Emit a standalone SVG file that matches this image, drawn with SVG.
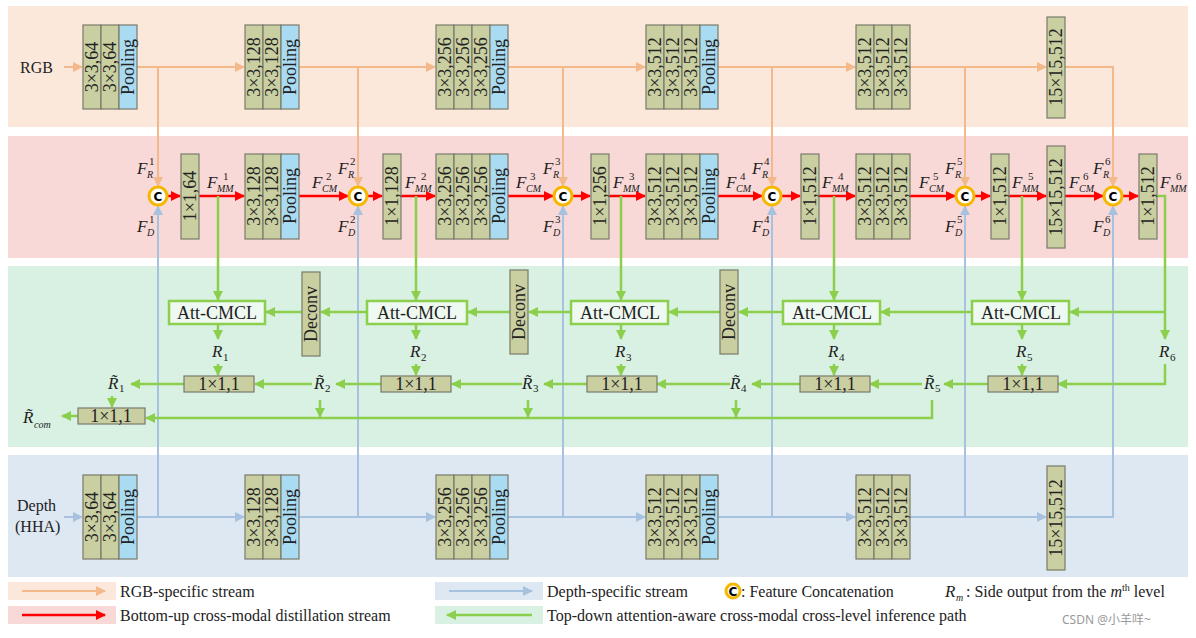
<svg xmlns="http://www.w3.org/2000/svg" width="1196" height="638" viewBox="0 0 1196 638">
<style>
.b{fill:#c9cfa1;stroke:#7a7a6a;stroke-width:1.2}
.p{fill:#a9dcf3;stroke:#7a7a6a;stroke-width:1.2}
.bt{font-family:"Liberation Serif",serif;font-size:18px;fill:#222;text-anchor:middle;dominant-baseline:central}
.t{font-family:"Liberation Serif",serif;font-size:16px;fill:#222}
.i{font-family:"Liberation Serif",serif;font-style:italic;font-size:17px;fill:#222}
.s{font-family:"Liberation Serif",serif;font-style:italic;font-size:10px;fill:#222}
.n{font-family:"Liberation Serif",serif;font-size:11px;fill:#222}
.o{stroke:#f3b98a;stroke-width:2;fill:none}
.bl{stroke:#a7c2de;stroke-width:2;fill:none}
.r{stroke:#ff0000;stroke-width:2.5;fill:none}
.g{stroke:#8ccf4c;stroke-width:2.5;fill:none}
.att{fill:#eef9f1;stroke:#8ccf4c;stroke-width:2.5}
.cc{fill:#fff;stroke:#f5b800;stroke-width:3}
.ct{font-family:"DejaVu Sans",sans-serif;font-weight:bold;font-size:12px;text-anchor:middle;dominant-baseline:central}
</style>
<defs>
<marker id="ao" markerWidth="10" markerHeight="10" refX="9" refY="5" orient="auto" markerUnits="userSpaceOnUse"><path d="M0,0 L10,5 L0,10 z" fill="#f3b98a"/></marker>
<marker id="ab" markerWidth="10" markerHeight="10" refX="9" refY="5" orient="auto" markerUnits="userSpaceOnUse"><path d="M0,0 L10,5 L0,10 z" fill="#a7c2de"/></marker>
<marker id="ar" markerWidth="10" markerHeight="10" refX="9" refY="5" orient="auto" markerUnits="userSpaceOnUse"><path d="M0,0 L10,5 L0,10 z" fill="#ff0000"/></marker>
<marker id="ag" markerWidth="10" markerHeight="10" refX="9" refY="5" orient="auto" markerUnits="userSpaceOnUse"><path d="M0,0 L10,5 L0,10 z" fill="#8ccf4c"/></marker>
</defs>
<rect x="8" y="6" width="1180" height="121" fill="#fbe8da"/>
<rect x="8" y="136" width="1180" height="122" fill="#f9d9d8"/>
<rect x="8" y="266" width="1180" height="181" fill="#d8f1e2"/>
<rect x="8" y="455" width="1180" height="122" fill="#dde8f3"/>

<g id="connectors">
<path class="o" d="M64,67 H82" marker-end="url(#ao)"/>
<path class="o" d="M137,67 H244" marker-end="url(#ao)"/>
<path class="o" d="M299,67 H435" marker-end="url(#ao)"/>
<path class="o" d="M508,67 H645" marker-end="url(#ao)"/>
<path class="o" d="M718,67 H855" marker-end="url(#ao)"/>
<path class="o" d="M910,67 H1046" marker-end="url(#ao)"/>
<path class="o" d="M1065,67 H1113 V186" marker-end="url(#ao)"/>
<path class="o" d="M158,67 V186" marker-end="url(#ao)"/>
<path class="o" d="M358,67 V186" marker-end="url(#ao)"/>
<path class="o" d="M563,67 V186" marker-end="url(#ao)"/>
<path class="o" d="M772,67 V186" marker-end="url(#ao)"/>
<path class="o" d="M965,67 V186" marker-end="url(#ao)"/>
<path class="bl" d="M64,517 H82" marker-end="url(#ab)"/>
<path class="bl" d="M137,517 H244" marker-end="url(#ab)"/>
<path class="bl" d="M299,517 H435" marker-end="url(#ab)"/>
<path class="bl" d="M508,517 H645" marker-end="url(#ab)"/>
<path class="bl" d="M718,517 H855" marker-end="url(#ab)"/>
<path class="bl" d="M910,517 H1046" marker-end="url(#ab)"/>
<path class="bl" d="M1065,517 H1113 V206" marker-end="url(#ab)"/>
<path class="bl" d="M158,517 V206" marker-end="url(#ab)"/>
<path class="bl" d="M358,517 V206" marker-end="url(#ab)"/>
<path class="bl" d="M563,517 V206" marker-end="url(#ab)"/>
<path class="bl" d="M772,517 V206" marker-end="url(#ab)"/>
<path class="bl" d="M965,517 V206" marker-end="url(#ab)"/>
<path class="r" d="M167,196 H180" marker-end="url(#ar)"/>
<path class="r" d="M199,196 H244" marker-end="url(#ar)"/>
<path class="r" d="M299,196 H348" marker-end="url(#ar)"/>
<path class="r" d="M367,196 H382" marker-end="url(#ar)"/>
<path class="r" d="M401,196 H435" marker-end="url(#ar)"/>
<path class="r" d="M508,196 H553" marker-end="url(#ar)"/>
<path class="r" d="M572,196 H590" marker-end="url(#ar)"/>
<path class="r" d="M609,196 H645" marker-end="url(#ar)"/>
<path class="r" d="M718,196 H762" marker-end="url(#ar)"/>
<path class="r" d="M781,196 H800" marker-end="url(#ar)"/>
<path class="r" d="M819,196 H855" marker-end="url(#ar)"/>
<path class="r" d="M910,196 H955" marker-end="url(#ar)"/>
<path class="r" d="M974,196 H990" marker-end="url(#ar)"/>
<path class="r" d="M1009,196 H1046" marker-end="url(#ar)"/>
<path class="r" d="M1065,196 H1103" marker-end="url(#ar)"/>
<path class="r" d="M1122,196 H1138" marker-end="url(#ar)"/>
<path class="g" d="M218,196 V300" marker-end="url(#ag)"/>
<path class="g" d="M416,196 V300" marker-end="url(#ag)"/>
<path class="g" d="M621,196 V300" marker-end="url(#ag)"/>
<path class="g" d="M834,196 V300" marker-end="url(#ag)"/>
<path class="g" d="M1022,196 V300" marker-end="url(#ag)"/>
<path class="g" d="M1157,196 H1165 V339" marker-end="url(#ag)"/>
<path class="g" d="M1165,312 H1070" marker-end="url(#ag)"/>
<path class="g" d="M972,312 H881" marker-end="url(#ag)"/>
<path class="g" d="M783,312 H739" marker-end="url(#ag)"/>
<path class="g" d="M720,312 H669" marker-end="url(#ag)"/>
<path class="g" d="M571,312 H529" marker-end="url(#ag)"/>
<path class="g" d="M510,312 H468" marker-end="url(#ag)"/>
<path class="g" d="M366,312 H321" marker-end="url(#ag)"/>
<path class="g" d="M302,312 H266" marker-end="url(#ag)"/>
<path class="g" d="M218,324 V339" marker-end="url(#ag)"/>
<path class="g" d="M416,324 V339" marker-end="url(#ag)"/>
<path class="g" d="M621,324 V339" marker-end="url(#ag)"/>
<path class="g" d="M834,324 V339" marker-end="url(#ag)"/>
<path class="g" d="M1022,324 V339" marker-end="url(#ag)"/>
<path class="g" d="M218,364 V375" marker-end="url(#ag)"/>
<path class="g" d="M416,364 V375" marker-end="url(#ag)"/>
<path class="g" d="M621,364 V375" marker-end="url(#ag)"/>
<path class="g" d="M834,364 V375" marker-end="url(#ag)"/>
<path class="g" d="M1022,364 V375" marker-end="url(#ag)"/>
<path class="g" d="M1165,364 V384 H1058" marker-end="url(#ag)"/>
<path class="g" d="M988,384 H944" marker-end="url(#ag)"/>
<path class="g" d="M922,384 H870" marker-end="url(#ag)"/>
<path class="g" d="M800,384 H752" marker-end="url(#ag)"/>
<path class="g" d="M730,384 H657" marker-end="url(#ag)"/>
<path class="g" d="M587,384 H544" marker-end="url(#ag)"/>
<path class="g" d="M522,384 H452" marker-end="url(#ag)"/>
<path class="g" d="M381,384 H336" marker-end="url(#ag)"/>
<path class="g" d="M312,384 H255" marker-end="url(#ag)"/>
<path class="g" d="M184,384 H131" marker-end="url(#ag)"/>
<path class="g" d="M112,396 V407" marker-end="url(#ag)"/>
<path class="g" d="M320,400 V417" marker-end="url(#ag)"/>
<path class="g" d="M528,400 V417" marker-end="url(#ag)"/>
<path class="g" d="M736,400 V417" marker-end="url(#ag)"/>
<path class="g" d="M932,400 V418 H146" marker-end="url(#ag)"/>
<path class="g" d="M78,416 H62" marker-end="url(#ag)"/>
</g>

<text class="t" x="20" y="73" font-size="17">RGB</text>
<text class="t" x="17" y="511">Depth</text>
<text class="t" x="15" y="532">(HHA)</text>

<g id="rgb1"><rect class="b" x="83" y="25" width="18" height="84"/><rect class="b" x="101" y="25" width="18" height="84"/><rect class="p" x="119" y="25" width="18" height="84"/>
<text class="bt" transform="translate(92,67) rotate(-90)">3×3,64</text><text class="bt" transform="translate(110,67) rotate(-90)">3×3,64</text><text class="bt" transform="translate(128,67) rotate(-90)">Pooling</text></g>
<g id="rgb2"><rect class="b" x="245" y="25" width="18" height="84"/><rect class="b" x="263" y="25" width="18" height="84"/><rect class="p" x="281" y="25" width="18" height="84"/>
<text class="bt" transform="translate(254,67) rotate(-90)">3×3,128</text><text class="bt" transform="translate(272,67) rotate(-90)">3×3,128</text><text class="bt" transform="translate(290,67) rotate(-90)">Pooling</text></g>
<g id="rgb3"><rect class="b" x="436" y="25" width="18" height="84"/><rect class="b" x="454" y="25" width="18" height="84"/><rect class="b" x="472" y="25" width="18" height="84"/><rect class="p" x="490" y="25" width="18" height="84"/>
<text class="bt" transform="translate(445,67) rotate(-90)">3×3,256</text><text class="bt" transform="translate(463,67) rotate(-90)">3×3,256</text><text class="bt" transform="translate(481,67) rotate(-90)">3×3,256</text><text class="bt" transform="translate(499,67) rotate(-90)">Pooling</text></g>
<g id="rgb4"><rect class="b" x="646" y="25" width="18" height="84"/><rect class="b" x="664" y="25" width="18" height="84"/><rect class="b" x="682" y="25" width="18" height="84"/><rect class="p" x="700" y="25" width="18" height="84"/>
<text class="bt" transform="translate(655,67) rotate(-90)">3×3,512</text><text class="bt" transform="translate(673,67) rotate(-90)">3×3,512</text><text class="bt" transform="translate(691,67) rotate(-90)">3×3,512</text><text class="bt" transform="translate(709,67) rotate(-90)">Pooling</text></g>
<g id="rgb5"><rect class="b" x="856" y="25" width="18" height="84"/><rect class="b" x="874" y="25" width="18" height="84"/><rect class="b" x="892" y="25" width="18" height="84"/>
<text class="bt" transform="translate(865,67) rotate(-90)">3×3,512</text><text class="bt" transform="translate(883,67) rotate(-90)">3×3,512</text><text class="bt" transform="translate(901,67) rotate(-90)">3×3,512</text></g>
<g id="rgb6"><rect class="b" x="1047" y="17" width="18" height="101"/><text class="bt" transform="translate(1056,67) rotate(-90)">15×15,512</text></g>

<g id="d1"><rect class="b" x="83" y="475" width="18" height="84"/><rect class="b" x="101" y="475" width="18" height="84"/><rect class="p" x="119" y="475" width="18" height="84"/>
<text class="bt" transform="translate(92,517) rotate(-90)">3×3,64</text><text class="bt" transform="translate(110,517) rotate(-90)">3×3,64</text><text class="bt" transform="translate(128,517) rotate(-90)">Pooling</text></g>
<g id="d2"><rect class="b" x="245" y="475" width="18" height="84"/><rect class="b" x="263" y="475" width="18" height="84"/><rect class="p" x="281" y="475" width="18" height="84"/>
<text class="bt" transform="translate(254,517) rotate(-90)">3×3,128</text><text class="bt" transform="translate(272,517) rotate(-90)">3×3,128</text><text class="bt" transform="translate(290,517) rotate(-90)">Pooling</text></g>
<g id="d3"><rect class="b" x="436" y="475" width="18" height="84"/><rect class="b" x="454" y="475" width="18" height="84"/><rect class="b" x="472" y="475" width="18" height="84"/><rect class="p" x="490" y="475" width="18" height="84"/>
<text class="bt" transform="translate(445,517) rotate(-90)">3×3,256</text><text class="bt" transform="translate(463,517) rotate(-90)">3×3,256</text><text class="bt" transform="translate(481,517) rotate(-90)">3×3,256</text><text class="bt" transform="translate(499,517) rotate(-90)">Pooling</text></g>
<g id="d4"><rect class="b" x="646" y="475" width="18" height="84"/><rect class="b" x="664" y="475" width="18" height="84"/><rect class="b" x="682" y="475" width="18" height="84"/><rect class="p" x="700" y="475" width="18" height="84"/>
<text class="bt" transform="translate(655,517) rotate(-90)">3×3,512</text><text class="bt" transform="translate(673,517) rotate(-90)">3×3,512</text><text class="bt" transform="translate(691,517) rotate(-90)">3×3,512</text><text class="bt" transform="translate(709,517) rotate(-90)">Pooling</text></g>
<g id="d5"><rect class="b" x="856" y="475" width="18" height="84"/><rect class="b" x="874" y="475" width="18" height="84"/><rect class="b" x="892" y="475" width="18" height="84"/>
<text class="bt" transform="translate(865,517) rotate(-90)">3×3,512</text><text class="bt" transform="translate(883,517) rotate(-90)">3×3,512</text><text class="bt" transform="translate(901,517) rotate(-90)">3×3,512</text></g>
<g id="d6"><rect class="b" x="1047" y="466" width="18" height="104"/><text class="bt" transform="translate(1056,518) rotate(-90)">15×15,512</text></g>

<g id="m1"><rect class="b" x="181" y="154" width="18" height="85"/><text class="bt" transform="translate(190,196) rotate(-90)">1×1,64</text></g>
<g id="m1s"><rect class="b" x="245" y="154" width="18" height="85"/><rect class="b" x="263" y="154" width="18" height="85"/><rect class="p" x="281" y="154" width="18" height="85"/>
<text class="bt" transform="translate(254,196) rotate(-90)">3×3,128</text><text class="bt" transform="translate(272,196) rotate(-90)">3×3,128</text><text class="bt" transform="translate(290,196) rotate(-90)">Pooling</text></g>
<g id="m2"><rect class="b" x="383" y="154" width="18" height="85"/><text class="bt" transform="translate(392,196) rotate(-90)">1×1,128</text></g>
<g id="m2s"><rect class="b" x="436" y="154" width="18" height="85"/><rect class="b" x="454" y="154" width="18" height="85"/><rect class="b" x="472" y="154" width="18" height="85"/><rect class="p" x="490" y="154" width="18" height="85"/>
<text class="bt" transform="translate(445,196) rotate(-90)">3×3,256</text><text class="bt" transform="translate(463,196) rotate(-90)">3×3,256</text><text class="bt" transform="translate(481,196) rotate(-90)">3×3,256</text><text class="bt" transform="translate(499,196) rotate(-90)">Pooling</text></g>
<g id="m3"><rect class="b" x="591" y="154" width="18" height="85"/><text class="bt" transform="translate(600,196) rotate(-90)">1×1,256</text></g>
<g id="m3s"><rect class="b" x="646" y="154" width="18" height="85"/><rect class="b" x="664" y="154" width="18" height="85"/><rect class="b" x="682" y="154" width="18" height="85"/><rect class="p" x="700" y="154" width="18" height="85"/>
<text class="bt" transform="translate(655,196) rotate(-90)">3×3,512</text><text class="bt" transform="translate(673,196) rotate(-90)">3×3,512</text><text class="bt" transform="translate(691,196) rotate(-90)">3×3,512</text><text class="bt" transform="translate(709,196) rotate(-90)">Pooling</text></g>
<g id="m4"><rect class="b" x="801" y="154" width="18" height="85"/><text class="bt" transform="translate(810,196) rotate(-90)">1×1,512</text></g>
<g id="m4s"><rect class="b" x="856" y="154" width="18" height="85"/><rect class="b" x="874" y="154" width="18" height="85"/><rect class="b" x="892" y="154" width="18" height="85"/>
<text class="bt" transform="translate(865,196) rotate(-90)">3×3,512</text><text class="bt" transform="translate(883,196) rotate(-90)">3×3,512</text><text class="bt" transform="translate(901,196) rotate(-90)">3×3,512</text></g>
<g id="m5"><rect class="b" x="991" y="154" width="18" height="85"/><text class="bt" transform="translate(1000,196) rotate(-90)">1×1,512</text></g>
<g id="m5s"><rect class="b" x="1047" y="146" width="18" height="102"/><text class="bt" transform="translate(1056,197) rotate(-90)">15×15,512</text></g>
<g id="m6"><rect class="b" x="1139" y="154" width="18" height="85"/><text class="bt" transform="translate(1148,196) rotate(-90)">1×1,512</text></g>

<g id="c1"><circle class="cc" cx="158" cy="196" r="9"/><text class="ct" x="158" y="197">C</text></g>
<g id="c2"><circle class="cc" cx="358" cy="196" r="9"/><text class="ct" x="358" y="197">C</text></g>
<g id="c3"><circle class="cc" cx="563" cy="196" r="9"/><text class="ct" x="563" y="197">C</text></g>
<g id="c4"><circle class="cc" cx="772" cy="196" r="9"/><text class="ct" x="772" y="197">C</text></g>
<g id="c5"><circle class="cc" cx="965" cy="196" r="9"/><text class="ct" x="965" y="197">C</text></g>
<g id="c6"><circle class="cc" cx="1113" cy="196" r="9"/><text class="ct" x="1113" y="197">C</text></g>

<g id="flabels">
<text class="i" x="137" y="174">F</text><text class="n" x="149" y="165">1</text><text class="s" x="147" y="178">R</text>
<text class="i" x="137" y="232">F</text><text class="n" x="149" y="223">1</text><text class="s" x="147" y="236">D</text>
<text class="i" x="338" y="174">F</text><text class="n" x="350" y="165">2</text><text class="s" x="348" y="178">R</text>
<text class="i" x="338" y="232">F</text><text class="n" x="350" y="223">2</text><text class="s" x="348" y="236">D</text>
<text class="i" x="543" y="174">F</text><text class="n" x="555" y="165">3</text><text class="s" x="553" y="178">R</text>
<text class="i" x="543" y="232">F</text><text class="n" x="555" y="223">3</text><text class="s" x="553" y="236">D</text>
<text class="i" x="752" y="174">F</text><text class="n" x="764" y="165">4</text><text class="s" x="762" y="178">R</text>
<text class="i" x="752" y="232">F</text><text class="n" x="764" y="223">4</text><text class="s" x="762" y="236">D</text>
<text class="i" x="945" y="174">F</text><text class="n" x="957" y="165">5</text><text class="s" x="955" y="178">R</text>
<text class="i" x="945" y="232">F</text><text class="n" x="957" y="223">5</text><text class="s" x="955" y="236">D</text>
<text class="i" x="1093" y="174">F</text><text class="n" x="1105" y="165">6</text><text class="s" x="1103" y="178">R</text>
<text class="i" x="1093" y="232">F</text><text class="n" x="1105" y="223">6</text><text class="s" x="1103" y="236">D</text>
<text class="i" x="207" y="188">F</text><text class="n" x="223" y="180">1</text><text class="s" x="217" y="192">MM</text>
<text class="i" x="405" y="188">F</text><text class="n" x="421" y="180">2</text><text class="s" x="415" y="192">MM</text>
<text class="i" x="613" y="188">F</text><text class="n" x="629" y="180">3</text><text class="s" x="623" y="192">MM</text>
<text class="i" x="822" y="188">F</text><text class="n" x="838" y="180">4</text><text class="s" x="832" y="192">MM</text>
<text class="i" x="1012" y="188">F</text><text class="n" x="1028" y="180">5</text><text class="s" x="1022" y="192">MM</text>
<text class="i" x="1160" y="188">F</text><text class="n" x="1176" y="180">6</text><text class="s" x="1170" y="192">MM</text>
<text class="i" x="312" y="188">F</text><text class="n" x="326" y="180">2</text><text class="s" x="322" y="192">CM</text>
<text class="i" x="516" y="188">F</text><text class="n" x="530" y="180">3</text><text class="s" x="526" y="192">CM</text>
<text class="i" x="726" y="188">F</text><text class="n" x="740" y="180">4</text><text class="s" x="736" y="192">CM</text>
<text class="i" x="919" y="188">F</text><text class="n" x="933" y="180">5</text><text class="s" x="929" y="192">CM</text>
<text class="i" x="1069" y="188">F</text><text class="n" x="1083" y="180">6</text><text class="s" x="1079" y="192">CM</text>
</g>

<g id="att1"><rect class="att" x="169" y="301" width="96" height="23"/><text class="bt" x="217" y="313" font-size="17">Att-CMCL</text></g>
<g id="att2"><rect class="att" x="367" y="301" width="100" height="23"/><text class="bt" x="417" y="313" font-size="17">Att-CMCL</text></g>
<g id="att3"><rect class="att" x="571" y="301" width="97" height="23"/><text class="bt" x="620" y="313" font-size="17">Att-CMCL</text></g>
<g id="att4"><rect class="att" x="783" y="301" width="97" height="23"/><text class="bt" x="832" y="313" font-size="17">Att-CMCL</text></g>
<g id="att5"><rect class="att" x="972" y="301" width="97" height="23"/><text class="bt" x="1021" y="313" font-size="17">Att-CMCL</text></g>
<g id="dc1"><rect class="b" x="302" y="272" width="18" height="84"/><text class="bt" transform="translate(311,314) rotate(-90)">Deconv</text></g>
<g id="dc2"><rect class="b" x="510" y="270" width="18" height="84"/><text class="bt" transform="translate(519,312) rotate(-90)">Deconv</text></g>
<g id="dc3"><rect class="b" x="720" y="270" width="18" height="84"/><text class="bt" transform="translate(729,312) rotate(-90)">Deconv</text></g>

<g id="rlabels">
<text class="i" x="212" y="357">R</text><text class="n" x="223" y="361">1</text>
<text class="i" x="410" y="357">R</text><text class="n" x="421" y="361">2</text>
<text class="i" x="615" y="357">R</text><text class="n" x="626" y="361">3</text>
<text class="i" x="828" y="357">R</text><text class="n" x="839" y="361">4</text>
<text class="i" x="1016" y="357">R</text><text class="n" x="1027" y="361">5</text>
<text class="i" x="1159" y="357">R</text><text class="n" x="1170" y="361">6</text>
<text class="i" x="108" y="389">R̃</text><text class="n" x="119" y="392">1</text>
<text class="i" x="314" y="389">R̃</text><text class="n" x="325" y="392">2</text>
<text class="i" x="522" y="389">R̃</text><text class="n" x="533" y="392">3</text>
<text class="i" x="730" y="389">R̃</text><text class="n" x="741" y="392">4</text>
<text class="i" x="924" y="389">R̃</text><text class="n" x="935" y="392">5</text>
<text class="i" x="23" y="423">R̃</text><text class="s" x="34" y="428">com</text>
</g>

<g id="o1"><rect class="b" x="184" y="376" width="70" height="16"/><text class="bt" x="219" y="384" font-size="17">1×1,1</text></g>
<g id="o2"><rect class="b" x="381" y="376" width="70" height="16"/><text class="bt" x="416" y="384" font-size="17">1×1,1</text></g>
<g id="o3"><rect class="b" x="587" y="376" width="70" height="16"/><text class="bt" x="622" y="384" font-size="17">1×1,1</text></g>
<g id="o4"><rect class="b" x="800" y="376" width="70" height="16"/><text class="bt" x="835" y="384" font-size="17">1×1,1</text></g>
<g id="o5"><rect class="b" x="988" y="376" width="70" height="16"/><text class="bt" x="1023" y="384" font-size="17">1×1,1</text></g>
<g id="ocom"><rect class="b" x="78" y="408" width="67" height="16"/><text class="bt" x="111" y="416" font-size="17">1×1,1</text></g>

<g id="legend">
<rect x="8" y="582" width="108" height="18" fill="#fbe8da"/>
<path class="o" d="M22,591 H105" marker-end="url(#ao)"/>
<text class="t" x="120" y="597">RGB-specific stream</text>
<rect x="435" y="582" width="108" height="18" fill="#dde8f3"/>
<path class="bl" d="M449,591 H532" marker-end="url(#ab)"/>
<text class="t" x="547" y="597">Depth-specific stream</text>
<circle class="cc" cx="733" cy="591" r="7"/><text class="ct" x="733" y="592" font-size="10">C</text>
<text class="t" x="741" y="597">: Feature Concatenation</text>
<text class="i" x="945" y="597">R</text><text class="s" x="956" y="601">m</text>
<text class="t" x="966" y="597">: Side output from the <tspan font-style="italic">m</tspan><tspan font-size="10" dy="-6">th</tspan><tspan dy="6"> level</tspan></text>
<rect x="8" y="606" width="108" height="18" fill="#f9d9d8"/>
<path class="r" d="M22,615 H105" marker-end="url(#ar)"/>
<text class="t" x="120" y="621">Bottom-up cross-modal distillation stream</text>
<rect x="435" y="606" width="108" height="18" fill="#d8f1e2"/>
<path class="g" d="M532,615 H447" marker-end="url(#ag)"/>
<text class="t" x="547" y="621">Top-down attention-aware cross-modal cross-level inference path</text>
<text x="1062" y="624" font-family="'Noto Sans','Noto Sans CJK SC',sans-serif" font-size="12" fill="#999">CSDN @小羊咩~</text>
</g>
</svg>
